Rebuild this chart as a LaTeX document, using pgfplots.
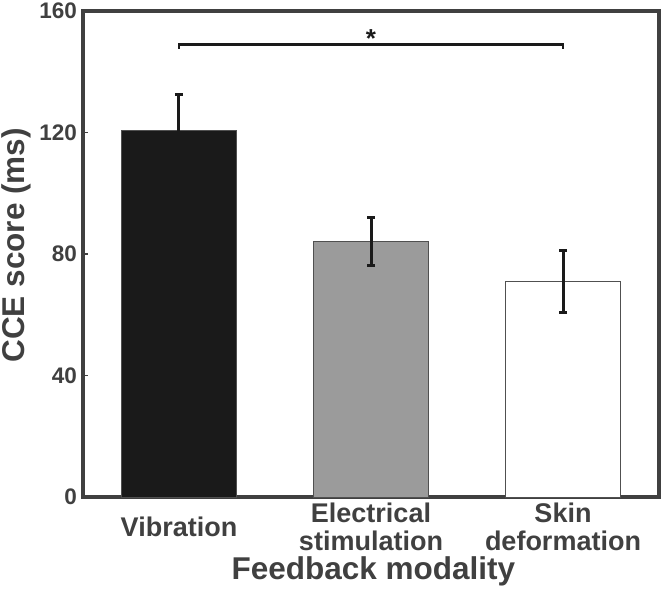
\documentclass[border=0pt]{standalone}
\usepackage{fontspec}
\setmainfont{Liberation Sans}
\usepackage{pgfplots}
\pgfplotsset{compat=1.18}
\definecolor{axgray}{HTML}{404040}
\definecolor{barblack}{HTML}{1A1A1A}
\definecolor{bargray}{HTML}{9B9B9B}
\definecolor{edgegray}{HTML}{505050}
\begin{document}
\begin{tikzpicture}
\path[use as bounding box] (-83pt,-93pt) rectangle (579pt,497pt);
\begin{axis}[
  at={(0,0)}, anchor=south west,
  scale only axis, width=576pt, height=486pt,
  xmin=-0.5, xmax=2.5, ymin=0, ymax=160,
  xtick={0,1,2},
  xticklabels={Vibration, Electrical\\stimulation, Skin\\deformation},
  ytick={0,40,80,120,160},
  tick pos=left, tick align=inside, major tick length=5pt,
  tick style={line width=1.5pt, axgray},
  axis line style={line width=3.5pt, axgray},
  x tick label style={font=\fontsize{27}{28}\selectfont\bfseries, text=axgray, align=center, anchor=center, yshift=-30pt, inner sep=0pt},
  y tick label style={font=\fontsize{22.5}{24}\selectfont\bfseries, text=axgray, inner xsep=6pt, inner ysep=0pt},
  /pgf/number format/assume math mode=true,
  xlabel={Feedback modality}, ylabel={CCE score (ms)},
  label style={font=\fontsize{31.5}{33}\selectfont\bfseries, text=axgray, inner sep=0pt},
  xlabel style={at={(axis description cs:0.504,-0.169)}, anchor=base},
  ylabel style={at={(axis description cs:-0.116,0.518)}, anchor=center},
  clip=false,
]
\addplot[ybar, bar width=0.6, bar shift=0, fill=barblack, draw=edgegray, line width=0.8pt,
  error bars/.cd, y dir=both, y explicit,
  error bar style={line width=3pt, barblack},
  error mark options={rotate=90, line width=3pt, mark size=4pt, barblack}]
  coordinates {(0,120.8) +- (0,11.8)};
\addplot[ybar, bar width=0.6, bar shift=0, fill=bargray, draw=edgegray, line width=0.8pt,
  error bars/.cd, y dir=both, y explicit,
  error bar style={line width=3pt, barblack},
  error mark options={rotate=90, line width=3pt, mark size=4pt, barblack}]
  coordinates {(1,84.1) +- (0,8.0)};
\addplot[ybar, bar width=0.6, bar shift=0, fill=white, draw=edgegray, line width=0.8pt,
  error bars/.cd, y dir=both, y explicit,
  error bar style={line width=3pt, barblack},
  error mark options={rotate=90, line width=3pt, mark size=4pt, barblack}]
  coordinates {(2,71.0) +- (0,10.3)};
% significance bracket
\addplot[line width=2.9pt, barblack, mark=none] coordinates {(0,147.5) (0,149.1) (2,149.1) (2,147.5)};
\node[font=\fontsize{26}{26}\selectfont\bfseries, text=barblack, inner sep=0pt] at (axis cs:1,150.8) {*};
\end{axis}
\end{tikzpicture}
\end{document}
